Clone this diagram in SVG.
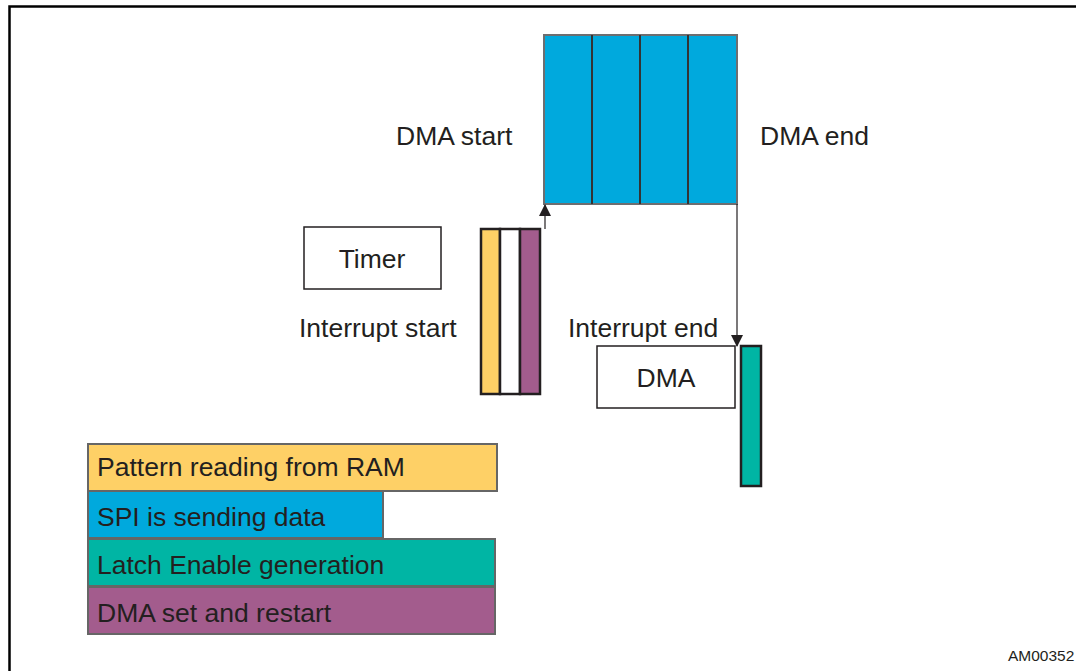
<svg xmlns="http://www.w3.org/2000/svg" width="1076" height="671" viewBox="0 0 1076 671">
<defs>
<style>
text{font-family:"Liberation Sans",Arial,sans-serif;fill:#231f20;font-size:26.5px}
.box{fill:#fff;stroke:#231f20;stroke-width:1.5}
.bar{stroke:#231f20;stroke-width:2.5}
.leg{stroke:#666;stroke-width:2}
.conn{stroke:#231f20;stroke-width:1.2;fill:none}
</style>
<marker id="ah" markerWidth="12" markerHeight="12" refX="11" refY="6" orient="auto" markerUnits="userSpaceOnUse" viewBox="0 0 12 12">
<path d="M0,0 L12,6 L0,12 Z" fill="#231f20"/>
</marker>
</defs>
<rect width="1076" height="671" fill="#fff"/>
<path d="M9.5,671 V6.5 H1076" fill="none" stroke="#000" stroke-width="2.5"/>

<g id="dma-blocks">
<rect x="544" y="35" width="193" height="169" fill="#00a9dd" stroke="#6d6e70" stroke-width="2"/>
<line x1="592" y1="35" x2="592" y2="204" stroke="#333" stroke-width="2"/>
<line x1="640" y1="35" x2="640" y2="204" stroke="#333" stroke-width="2"/>
<line x1="688" y1="35" x2="688" y2="204" stroke="#333" stroke-width="2"/>
</g>
<g id="dma-start"><text x="396" y="145">DMA start</text></g>
<g id="dma-end"><text x="760" y="145">DMA end</text></g>

<g id="timer">
<rect class="box" x="304" y="227" width="137" height="62"/>
<text x="372" y="268" text-anchor="middle">Timer</text>
</g>
<g id="interrupt-start"><text x="299" y="337">Interrupt start</text></g>

<g id="isr-bars">
<rect class="bar" x="481" y="229" width="19" height="165" fill="#fed066"/>
<rect class="bar" x="500" y="229" width="20" height="165" fill="#fff"/>
<rect class="bar" x="520" y="229" width="20" height="165" fill="#a35c8d"/>
</g>

<g id="interrupt-end"><text x="568" y="337">Interrupt end</text></g>
<g id="dma">
<rect class="box" x="597" y="346" width="138" height="62"/>
<text x="666" y="387" text-anchor="middle">DMA</text>
</g>
<g id="latch-bar">
<rect class="bar" x="741" y="346" width="20" height="140" fill="#00b5a4"/>
</g>

<g id="connectors">
<line class="conn" x1="545" y1="229" x2="545" y2="205" marker-end="url(#ah)"/>
<line class="conn" x1="737" y1="204" x2="737" y2="346" marker-end="url(#ah)"/>
</g>

<g id="legend">
<rect class="leg" x="88" y="444" width="409" height="47" fill="#fed066"/>
<text x="97" y="476">Pattern reading from RAM</text>
<rect class="leg" x="88" y="491" width="295" height="47" fill="#00a9dd"/>
<text x="97" y="526">SPI is sending data</text>
<rect class="leg" x="88" y="539" width="407" height="47" fill="#00b5a4"/>
<text x="97" y="574">Latch Enable generation</text>
<rect class="leg" x="88" y="587" width="407" height="47" fill="#a35c8d"/>
<text x="97" y="622">DMA set and restart</text>
</g>

<text x="1008" y="661" style="font-size:15.5px">AM00352</text>
</svg>
